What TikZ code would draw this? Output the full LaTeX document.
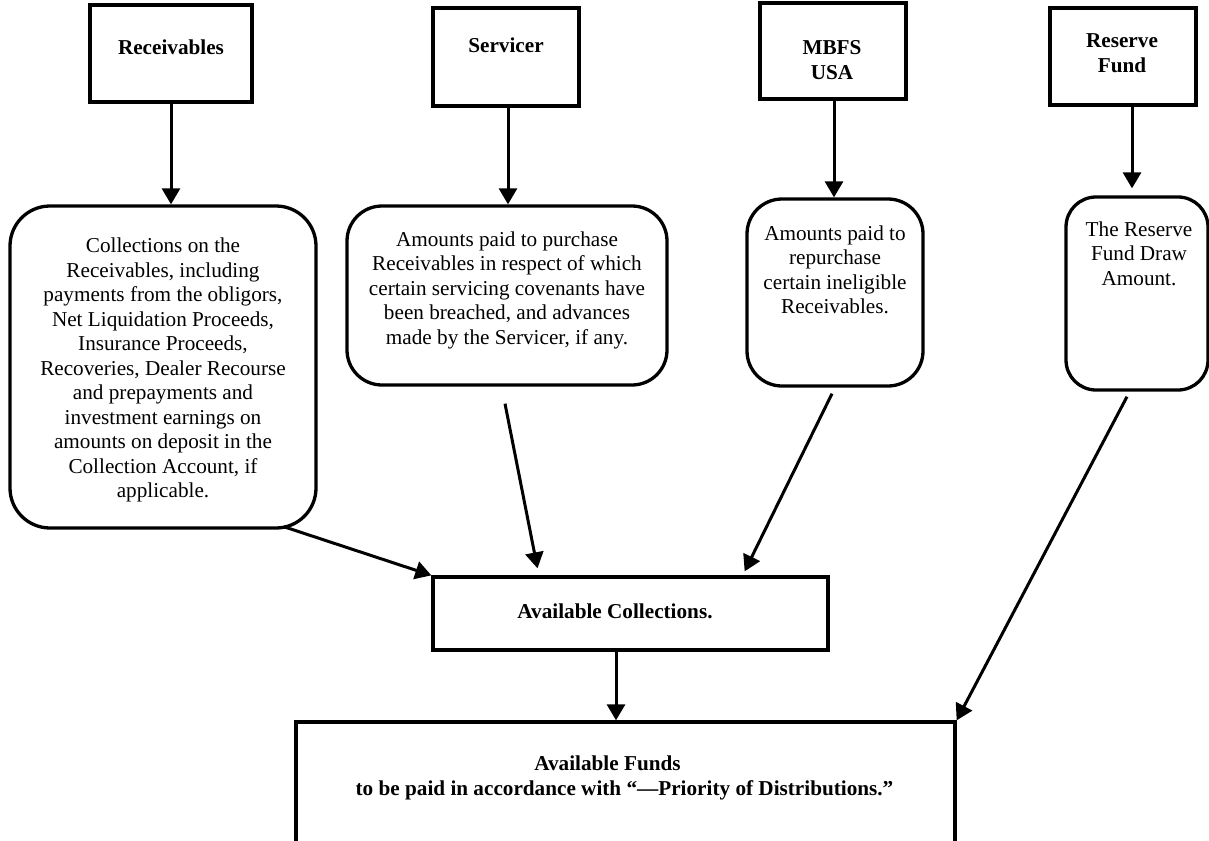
\documentclass[tikz,border=0pt]{standalone}
\usepackage{fontspec}
\setmainfont{Liberation Serif}
\usetikzlibrary{arrows.meta}
\begin{document}
\begin{tikzpicture}[x=1pt,y=-1pt,
  box/.style={draw, line width=3.3pt, inner sep=0pt},
  rbox/.style={draw, line width=3.3pt, inner sep=0pt, rounded corners=#1},
  txt/.style={font=\fontsize{21.2}{24.5}\selectfont, align=center, inner sep=0pt},
  ttl/.style={font=\fontsize{21.2}{25}\selectfont\bfseries, align=center, inner sep=0pt},
  arr/.style={line width=3pt, -{Triangle[length=16pt,width=18pt]}}
]
\clip (0,0) rectangle (1209,840);
\fill[white] (0,0) rectangle (1209,840);

% top boxes
\node[box, minimum width=162pt, minimum height=97pt] (rec) at (171,53.5) {};
\node[ttl] (recT) at (171,47.5) {Receivables};
\node[box, minimum width=146pt, minimum height=98pt] (srv) at (506,57) {};
\node[ttl] (srvT) at (506,45) {Servicer};
\node[box, minimum width=146pt, minimum height=96pt] (mbfs) at (833,51) {};
\node[ttl] (mbfsT) at (832,60) {MBFS\\USA};
\node[box, minimum width=146pt, minimum height=97pt] (rf) at (1123,56.5) {};
\node[ttl] (rfT) at (1122,53) {Reserve\\Fund};

% rounded boxes
\node[rbox=40pt, minimum width=306pt, minimum height=322pt] (col) at (163,367) {};
\node[txt] (colT) at (163,370) {Collections on the\\Receivables, including\\payments from the obligors,\\Net Liquidation Proceeds,\\Insurance Proceeds,\\Recoveries, Dealer Recourse\\and prepayments and\\investment earnings on\\amounts on deposit in the\\Collection Account, if\\applicable.};
\node[rbox=35pt, minimum width=320pt, minimum height=179pt] (srvb) at (507,295.5) {};
\node[txt] (srvbT) at (507,290) {Amounts paid to purchase\\Receivables in respect of which\\certain servicing covenants have\\been breached, and advances\\made by the Servicer, if any.};
\node[rbox=35pt, minimum width=176pt, minimum height=187pt] (mb) at (835,292.5) {};
\node[txt] (mbT) at (835,270) {Amounts paid to\\repurchase\\certain ineligible\\Receivables.};
\node[rbox=30pt, minimum width=142pt, minimum height=193pt] (rfb) at (1137,293.5) {};
\node[txt] (rfbT) at (1139,253.5) {The Reserve\\Fund Draw\\Amount.};

% lower boxes
\node[box, minimum width=395pt, minimum height=73pt] (ac) at (630.5,613.5) {};
\node[ttl] (acT) at (615,611) {Available Collections.};
\node[box, minimum width=659pt, minimum height=138pt] (af) at (625.5,791) {};
\node[ttl] (afT) at (624.5,777.5) {Available Funds\hspace*{34pt}\\to be paid in accordance with “—Priority of Distributions.”};

% arrows down from sources
\draw[arr] (rec.south) -- (rec.south |- col.north);
\draw[arr] ([xshift=2pt]srv.south) -- ([xshift=2pt]srv.south |- srvb.north);
\draw[arr] ([xshift=1pt]mbfs.south) -- ([xshift=1pt]mbfs.south |- mb.north);
\draw[arr, shorten >=7pt] ([xshift=9pt]rf.south) -- ([xshift=9pt]rf.south |- rfb.north);

% arrows to Available Collections / Funds
\draw[arr] ([xshift=-34pt,yshift=3pt]col.south east) -- (ac.north west);
\draw[arr] ([xshift=-2pt,yshift=-17pt]srvb.south) -- ([xshift=-93pt,yshift=7pt]ac.north);
\draw[arr] ([xshift=-3pt,yshift=-6pt]mb.south) -- ([xshift=-85pt,yshift=4pt]ac.north east);
\draw[arr] ([xshift=-10pt,yshift=-5pt]rfb.south) -- (af.north east);
\draw[arr] ([xshift=-14.5pt]ac.south) -- ([xshift=-14.5pt]ac.south |- af.north);
\end{tikzpicture}
\end{document}
